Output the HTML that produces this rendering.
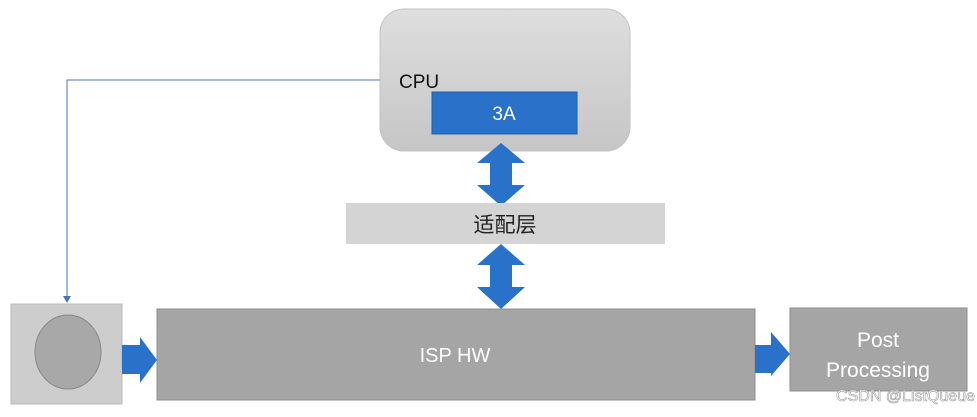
<!DOCTYPE html>
<html><head><meta charset="utf-8"><style>
body{margin:0;width:977px;height:412px;background:#fff;overflow:hidden;font-family:"Liberation Sans","Noto Sans CJK SC",sans-serif}
</style></head><body>
<svg width="977" height="412" xmlns="http://www.w3.org/2000/svg">
<defs><linearGradient id="g" x1="0" y1="0" x2="0" y2="1"><stop offset="0" stop-color="#dedede"/><stop offset="1" stop-color="#c6c6c6"/></linearGradient></defs>
<rect x="380" y="9" width="250" height="142" rx="24" fill="url(#g)" stroke="#c4c4c4"/>
<text x="399" y="88" font-size="19" fill="#111">CPU</text>
<rect x="432" y="92" width="145" height="42" fill="#2a72c9" stroke="#1f5fa8"/>
<text x="504" y="120" font-size="19" fill="#fff" text-anchor="middle">3A</text>
<polyline points="380,80 67,80 67,296" fill="none" stroke="#4a72b8" stroke-width="1"/>
<polygon points="63,296 71,296 67,303" fill="#4a72b8"/>
<polygon points="501,143 525,163 512,163 512,185 525,185 501,206 477,185 490,185 490,163 477,163" fill="#2a72c9"/>
<rect x="346" y="203" width="319" height="41" fill="#d4d4d4"/>
<text x="505" y="232" font-size="21" fill="#222" text-anchor="middle">适配层</text>
<polygon points="501,244 525,265 512,265 512,287 525,287 501,309 477,287 490,287 490,265 477,265" fill="#2a72c9"/>
<rect x="11" y="304" width="111" height="100" fill="#cdcdcd" stroke="#bbb"/>
<ellipse cx="68" cy="352" rx="33" ry="37" fill="#a8a8a8" stroke="#888"/>
<polygon points="122,345 140,345 140,337 157,360 140,383 140,374 122,374" fill="#2a72c9"/>
<rect x="157" y="309" width="598" height="91" fill="#a6a5a6" stroke="#8e8e8e"/>
<text x="455" y="362" font-size="20" fill="#fff" text-anchor="middle">ISP HW</text>
<polygon points="755,345 771,345 771,332 790,354 771,376 771,373 755,373" fill="#2a72c9"/>
<rect x="790" y="308" width="177" height="83" fill="#a6a5a6" stroke="#8e8e8e"/>
<text x="878" y="347" font-size="21" fill="#fff" text-anchor="middle">Post</text>
<text x="878" y="377" font-size="21" fill="#fff" text-anchor="middle">Processing</text>
<text x="975" y="401" font-size="16" fill="#fff" stroke="#999" stroke-width="0.6" text-anchor="end">CSDN @ListQueue</text>
</svg>
</body></html>
